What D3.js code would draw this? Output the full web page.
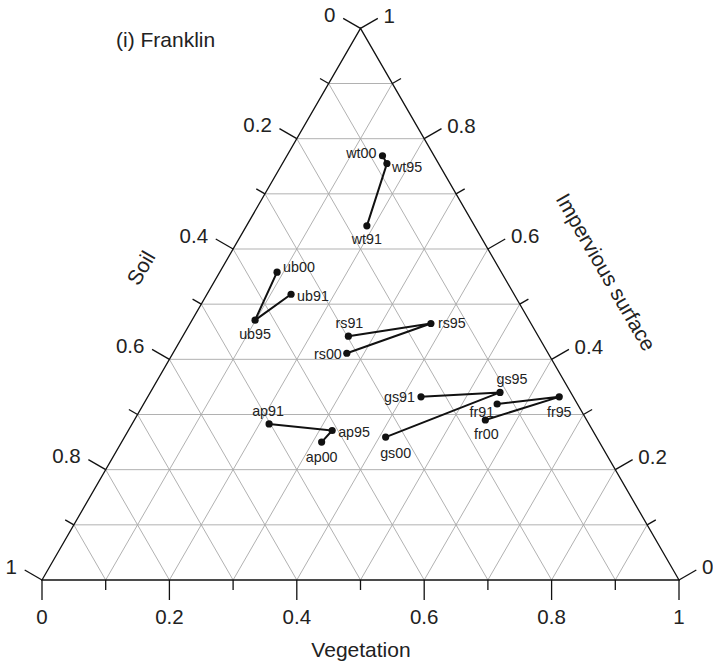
<!DOCTYPE html>
<html><head><meta charset="utf-8">
<script src="https://cdn.jsdelivr.net/npm/d3@7"></script>
<style>body{margin:0;background:#fff}text{font-family:"Liberation Sans",Arial,sans-serif;fill:#222}</style>
</head><body><svg id="c" width="713" height="664"></svg>
<script>
// ---- data ----
const pointNames = ["wt91","wt95","wt00","ub91","ub95","ub00","rs91","rs95","rs00","ap91","ap95","ap00","gs91","gs95","gs00","fr91","fr95","fr00"];
const vegetation = [0.189,0.164,0.150, 0.132,0.099,0.090, 0.260,0.378,0.273, 0.215,0.320,0.314, 0.429,0.549,0.410, 0.555,0.646,0.551];
const impervious = [0.642,0.755,0.769, 0.518,0.471,0.558, 0.442,0.465,0.411, 0.283,0.271,0.250, 0.332,0.340,0.259, 0.319,0.332,0.290];
const groups = ["wt","ub","rs","ap","gs","fr"];
const years = ["91","95","00"];
const tickValues = [0,0.1,0.2,0.3,0.4,0.5,0.6,0.7,0.8,0.9,1];
const tickLabels = ["0","","0.2","","0.4","","0.6","","0.8","","1"];
const title = "(i) Franklin";
const axisTitles = {bottom:"Vegetation", left:"Soil", right:"Impervious surface"};

// ---- label placement (layout, not data) ----
const labelPlace = {
  wt91:[0,13,"middle"], wt95:[5,3,"start"], wt00:[-6,-3,"end"],
  ub91:[6,2,"start"], ub95:[0,14,"middle"], ub00:[6,-5,"start"],
  rs91:[1,-13,"middle"], rs95:[7,0,"start"], rs00:[-5,1,"end"],
  ap91:[-1,-13,"middle"], ap95:[6,1,"start"], ap00:[0,15,"middle"],
  gs91:[-6,0,"end"], gs95:[12,-13,"middle"], gs00:[10,16,"middle"],
  fr91:[-3,8,"end"], fr95:[0,15,"middle"], fr00:[1,14,"middle"]
};

const svg = d3.select("#c");
const X0 = 42, X1 = 679, Y0 = 580;
const side = X1 - X0, h = side * Math.sqrt(3) / 2;
const xs = d3.scaleLinear().domain([0,1]).range([X0, X1]);      // projected horizontal coord
const ys = d3.scaleLinear().domain([0,1]).range([Y0, Y0 - h]);  // impervious fraction
const P = (v, i) => [xs(v + i/2), ys(i)];

// grid
const grid = svg.append("g").attr("stroke","#a8a8a8").attr("stroke-width",0.9).attr("fill","none");
tickValues.slice(1,-1).forEach(t => {
  let a = P(0,t), b = P(1-t,t);
  grid.append("line").attr("x1",a[0]).attr("y1",a[1]).attr("x2",b[0]).attr("y2",b[1]);
  a = P(t,0); b = P(t,1-t);
  grid.append("line").attr("x1",a[0]).attr("y1",a[1]).attr("x2",b[0]).attr("y2",b[1]);
  a = P(1-t,0); b = P(0,1-t);
  grid.append("line").attr("x1",a[0]).attr("y1",a[1]).attr("x2",b[0]).attr("y2",b[1]);
});

// frame
const A = P(0,0), B = P(1,0), C = P(0,1);
svg.append("path").attr("d", d3.line()([A,B,C,A]) + "Z")
  .attr("fill","none").attr("stroke","#111").attr("stroke-width",1.3);

// ticks
const ax = svg.append("g").attr("stroke","#111").attr("stroke-width",1.3);
const c30 = Math.cos(Math.PI/6), s30 = 0.5;
const TF = 20.5;
tickValues.forEach((t,k) => {
  const L = tickLabels[k] ? 20 : 10;
  let p = P(t,0);
  ax.append("line").attr("x1",p[0]).attr("y1",p[1]).attr("x2",p[0]).attr("y2",p[1]+L);
  if (tickLabels[k]) svg.append("text").attr("x",p[0]).attr("y",p[1]+37).attr("dy","0.35em")
      .attr("text-anchor","middle").attr("font-size",TF).text(tickLabels[k]);
  p = P(0,1-t);
  ax.append("line").attr("x1",p[0]).attr("y1",p[1]).attr("x2",p[0]-L*c30).attr("y2",p[1]-L*s30);
  if (tickLabels[k]) svg.append("text").attr("x",p[0]-25).attr("y",p[1]-13.5).attr("dy","0.35em")
      .attr("text-anchor","end").attr("font-size",TF).text(tickLabels[k]);
  p = P(1-t,t);
  ax.append("line").attr("x1",p[0]).attr("y1",p[1]).attr("x2",p[0]+L*c30).attr("y2",p[1]-L*s30);
  if (tickLabels[k]) svg.append("text").attr("x",p[0]+23).attr("y",p[1]-13).attr("dy","0.35em")
      .attr("text-anchor","start").attr("font-size",TF).text(tickLabels[k]);
});

// axis titles
svg.append("text").attr("x",361).attr("y",650).attr("dy","0.35em").attr("text-anchor","middle")
  .attr("font-size",21).text(axisTitles.bottom);
svg.append("text").attr("transform","translate(141,268) rotate(-60)").attr("dy","0.35em")
  .attr("text-anchor","middle").attr("font-size",21).text(axisTitles.left);
svg.append("text").attr("transform","translate(606,272) rotate(60)").attr("dy","0.35em")
  .attr("text-anchor","middle").attr("font-size",21).text(axisTitles.right);
svg.append("text").attr("x",116).attr("y",40).attr("dy","0.35em").attr("font-size",21).text(title);

// series
const pts = pointNames.map((n,i) => ({name:n, v:vegetation[i], im:impervious[i]}));
const byName = Object.fromEntries(pts.map(d => [d.name, d]));
const line = d3.line().x(d => P(d.v,d.im)[0]).y(d => P(d.v,d.im)[1]);
groups.forEach(g => {
  svg.append("path").datum(years.map(y => byName[g+y])).attr("d", line)
    .attr("fill","none").attr("stroke","#111").attr("stroke-width",2);
});
svg.selectAll("circle.pt").data(pts).join("circle").attr("class","pt")
  .attr("cx", d => P(d.v,d.im)[0]).attr("cy", d => P(d.v,d.im)[1]).attr("r",3.6).attr("fill","#111");
svg.selectAll("text.lab").data(pts).join("text").attr("class","lab")
  .attr("x", d => P(d.v,d.im)[0] + labelPlace[d.name][0])
  .attr("y", d => P(d.v,d.im)[1] + labelPlace[d.name][1])
  .attr("dy","0.35em").attr("text-anchor", d => labelPlace[d.name][2])
  .attr("font-size",14.3).text(d => d.name);
</script></body></html>
